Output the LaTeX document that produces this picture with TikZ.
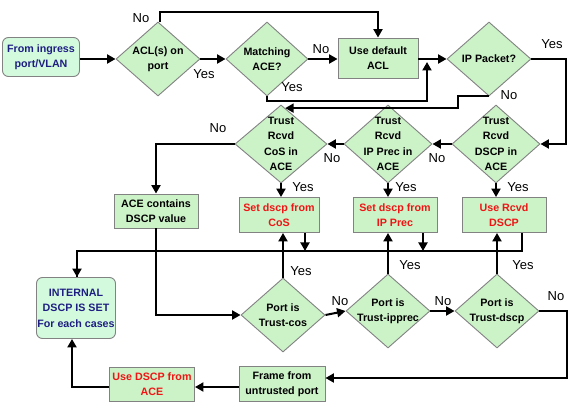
\documentclass[tikz,border=0pt]{standalone}
\usepackage{fontspec}
\setmainfont{Liberation Sans}
\usetikzlibrary{shapes.geometric,arrows.meta,calc}
\definecolor{boxgreen}{RGB}{204,242,200}
\definecolor{mint}{RGB}{212,250,222}
\definecolor{edgegray}{RGB}{130,130,130}
\definecolor{navy}{RGB}{30,30,130}
\definecolor{redtxt}{RGB}{240,20,20}
\tikzset{
  base/.style={draw=edgegray, line width=0.9pt, fill=boxgreen, inner sep=0pt},
  dia/.style={base, diamond},
  boxn/.style={base, rectangle},
  rbox/.style={base, rectangle, rounded corners=6pt, fill=mint},
  txt/.style={align=center, font=\fontsize{10.7}{15.5}\selectfont\bfseries, inner sep=0pt},
  bluetxt/.style={txt, text=navy},
  redt/.style={txt, text=redtxt},
  lab/.style={font=\fontsize{13}{15}\selectfont, inner sep=0pt},
  conn/.style={line width=2pt, line join=miter},
  arr/.style={conn, -{Triangle[length=8.5pt,width=9pt]}},
}
\begin{document}
\begin{tikzpicture}[x=1pt,y=-1pt]
\useasboundingbox (0,0) rectangle (575,406);
\fill[white] (0,0) rectangle (575,406);
% ---- row 1
\node[rbox, minimum width=77pt, minimum height=39pt] (ing) at (41,57) {};
\node[bluetxt] (ingt) at (ing) {From ingress\\port/VLAN};
\node[dia, minimum width=84pt, minimum height=74pt] (acl) at (158,59) {};
\node[txt] (aclt) at (acl) {ACL(s) on\\port};
\node[dia, minimum width=82pt, minimum height=74pt] (mat) at (267,59) {};
\node[txt] (matt) at (mat) {Matching\\ACE?};
\node[boxn, minimum width=80pt, minimum height=40pt] (def) at (378,58) {};
\node[txt] (deft) at (def) {Use default\\ACL};
\node[dia, minimum width=84pt, minimum height=74pt] (ip) at (489,59) {};
\node[txt] (ipt) at (ip) {IP Packet?};
% ---- row 2
\node[dia, minimum width=92pt, minimum height=78pt] (cos) at (281,144) {};
\node[txt] (cost) at (cos) {Trust\\Rcvd\\CoS in\\ACE};
\node[dia, minimum width=88pt, minimum height=78pt] (prec) at (388,144) {};
\node[txt] (prect) at (prec) {Trust\\Rcvd\\IP Prec in\\ACE};
\node[dia, minimum width=88pt, minimum height=78pt] (dscp) at (496,144) {};
\node[txt] (dscpt) at (dscp) {Trust\\Rcvd\\DSCP in\\ACE};
% ---- boxes row
\node[boxn, minimum width=84pt, minimum height=34pt] (acec) at (156,211) {};
\node[txt] (acect) at (acec) {ACE contains\\DSCP value};
\node[boxn, minimum width=80pt, minimum height=35pt] (setcos) at (279,215) {};
\node[redt] (setcost) at (setcos) {Set dscp from\\CoS};
\node[boxn, minimum width=84pt, minimum height=35pt] (setprec) at (395,215) {};
\node[redt] (setprect) at (setprec) {Set dscp from\\IP Prec};
\node[boxn, minimum width=84pt, minimum height=35pt] (ucv) at (504,215) {};
\node[redt] (ucvt) at (ucv) {Use Rcvd\\DSCP};
% ---- row 3
\node[rbox, minimum width=79pt, minimum height=61pt] (int) at (76,308) {};
\node[bluetxt] (intt) at (int) {INTERNAL\\DSCP IS SET\\For each cases};
\node[dia, minimum width=84pt, minimum height=74pt] (pcos) at (283,315) {};
\node[txt] (pcost) at (pcos) {Port is\\Trust-cos};
\node[dia, minimum width=84pt, minimum height=74pt] (pprec) at (388,311) {};
\node[txt] (pprect) at (pprec) {Port is\\Trust-ipprec};
\node[dia, minimum width=84pt, minimum height=74pt] (pdscp) at (497,311) {};
\node[txt] (pdscpt) at (pdscp) {Port is\\Trust-dscp};
% ---- bottom row
\node[boxn, minimum width=86pt, minimum height=35pt] (frame) at (282,384) {};
\node[txt] (framet) at (frame) {Frame from\\untrusted port};
\node[boxn, minimum width=85pt, minimum height=34pt] (uace) at (152,384) {};
\node[redt] (uacet) at (uace) {Use DSCP from\\ACE};
% ---- junction coordinates
\coordinate (j1) at (427,62);
\coordinate (cosin) at ($(cos.north)!0.09!(cos.east)$);
\coordinate (busR) at (522,251);
% ---- connectors row 1
\draw[arr] (ing.east |- acl.west) -- (acl.west);
\draw[arr] (acl.east) -- (mat.west);
\node[lab] (l1) at (204,74) {Yes};
\draw[arr] ([xshift=2pt]acl.north) -- ++(0,-10) -| (def.north);
\node[lab] (l2) at (141,18) {No};
\draw[arr] (mat.east) -- (mat.east -| def.west);
\node[lab] (l3) at (321,49) {No};
\draw[arr] (mat.south) -- ++(0,5) -| (j1);
\node[lab] (l4) at (292,87) {Yes};
\draw[arr] (def.east |- ip.west) -- (ip.west);
\draw[arr] (ip.east) -- ++(35,0) |- (dscp.east);
\node[lab] (l5) at (552,44) {Yes};
\draw[arr] (ip.south) -- ++(-31,0) |- (cosin);
\node[lab] (l6) at (509,95) {No};
% ---- row 2
\draw[arr] (dscp.west) -- (prec.east);
\node[lab] (l7) at (437,158) {No};
\draw[arr] (prec.west) -- (cos.east);
\node[lab] (l8) at (332,158) {No};
\draw[arr] (cos.west) -| (acec.north);
\node[lab] (l9) at (218,128) {No};
\draw[arr] (cos.south) -- (cos.south |- setcos.north);
\node[lab] (l10) at (303,187) {Yes};
\draw[arr] (prec.south) -- (prec.south |- setprec.north);
\node[lab] (l11) at (406,187) {Yes};
\draw[arr] (dscp.south) -- (dscp.south |- ucv.north);
\node[lab] (l12) at (518,187) {Yes};
% ---- bus
\draw[conn] (busR |- ucv.south) -- (busR) -| ([xshift=1pt]int.north);
\draw[arr] ([xshift=26pt]setcos.south) -- ++(0,18);
\draw[arr] ([xshift=28pt]setprec.south) -- ++(0,18);
\draw[arr] ([xshift=1pt]int.north |- busR) -- ([xshift=1pt]int.north);
% ---- row 3 upward
\draw[arr] (pcos.north) -- (pcos.north |- setcos.south);
\node[lab] (l13) at (301,271) {Yes};
\draw[arr] (pprec.north) -- (pprec.north |- setprec.south);
\node[lab] (l14) at (410,265) {Yes};
\draw[arr] (pdscp.north) -- (pdscp.north |- ucv.south);
\node[lab] (l15) at (523,265) {Yes};
\draw[arr] (acec.south) |- (pcos.west);
\draw[arr] (pcos.east) -- (pprec.west);
\node[lab] (l16) at (340,301) {No};
\draw[arr] (pprec.east) -- (pdscp.west);
\node[lab] (l17) at (443,301) {No};
\draw[arr] (pdscp.east) -- ++(28,0) |- ([yshift=6pt]frame.east);
\node[lab] (l18) at (556,296) {No};
\draw[arr] ([yshift=-3pt]frame.west) -- ([yshift=-3pt]uace.east);
\draw[arr] ([yshift=-3pt]uace.west) -| ([xshift=-4pt]int.south);
\end{tikzpicture}
\end{document}
